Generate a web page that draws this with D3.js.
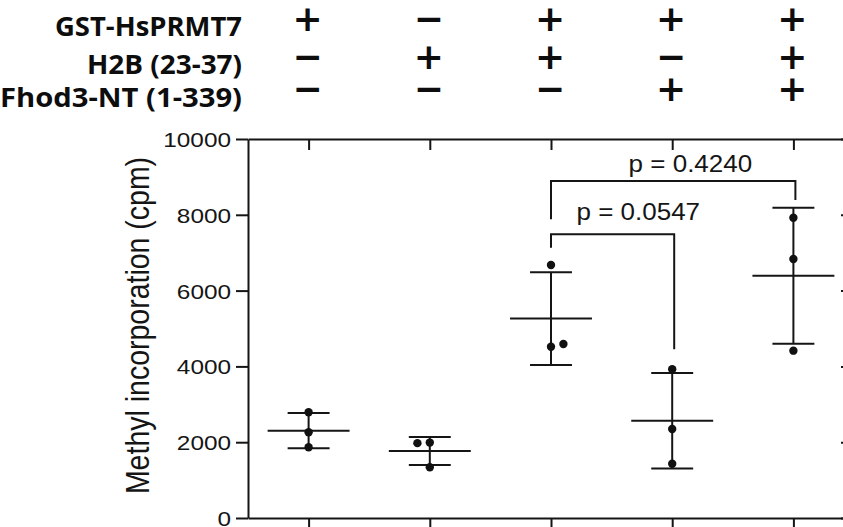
<!DOCTYPE html>
<html><head><meta charset="utf-8">
<script src="https://cdn.jsdelivr.net/npm/d3@7"></script>
<style>body{margin:0;background:#fff} svg{display:block}</style>
</head><body><svg id="c" width="843" height="527"></svg>
<script>
// ---------- data ----------
const groups = [1, 2, 3, 4, 5];
const rowLabels = ["GST-HsPRMT7", "H2B (23-37)", "Fhod3-NT (1-339)"];
const gstRow  = ["+", "\u2212", "+", "+", "+"];
const h2bRow  = ["\u2212", "+", "+", "\u2212", "+"];
const fhodRow = ["\u2212", "\u2212", "\u2212", "+", "+"];
const values = [
  [2789, 2261, 1865],
  [1990, 1975, 1338],
  [6675, 4520, 4591],
  [3923, 2348, 1433],
  [7923, 6834, 4415]
];
const yTicks = [0, 2000, 4000, 6000, 8000, 10000];
const yLabel = "Methyl incorporation (cpm)";
const compFrom   = [3, 3];
const compTo     = [4, 5];
const compLevel  = [7485, 8892];
const compFromEnd = [7132, 7881];
const compToEnd  = [4451, 8391];
const compLabel  = ["p = 0.0547", "p = 0.4240"];
const compLabelX = [3.72, 4.15];
const compLabelY = [7863, 9121];

// ---------- layout ----------
const svg = d3.select("#c");
const ink = "#151515";
const x = d3.scaleLinear().domain([0.5, 5.5]).range([248, 854]);
const y = d3.scaleLinear().domain([0, 10000]).range([518, 139]);
const step = x(2) - x(1);

// frame axes
const fontAx = "'Liberation Sans', Arial, sans-serif";
const axLeft = svg.append("g").attr("transform", `translate(${x(0.5)},0)`)
  .call(d3.axisLeft(y).tickValues(yTicks).tickSize(12).tickSizeOuter(0).tickPadding(4).tickFormat(d3.format("d")));
axLeft.selectAll("text").attr("font-family", fontAx).attr("font-size", 21).attr("fill", ink)
  .attr("transform", "scale(1.16,1)").attr("x", -17 / 1.16).attr("dy", "0.36em");
svg.append("g").attr("transform", `translate(0,${y(0)})`)
  .call(d3.axisBottom(x).tickValues(groups).tickSize(12).tickSizeOuter(0).tickFormat(""));
svg.append("g").attr("transform", `translate(0,${y(10000)})`)
  .call(d3.axisTop(x).tickValues(groups).tickSize(-11).tickSizeOuter(0).tickFormat(""));
svg.append("g").attr("transform", `translate(${x(5.5)},0)`)
  .call(d3.axisRight(y).tickValues(yTicks).tickSize(-13).tickSizeOuter(0).tickFormat(""));
svg.selectAll(".domain, .tick line").attr("stroke", ink).attr("stroke-width", 2);

// y label
svg.append("text").attr("transform", `translate(149,${(y(0) + y(10000)) / 2 - 3}) rotate(-90) scale(1,1.18)`)
  .attr("text-anchor", "middle").attr("font-family", fontAx).attr("font-size", 28.5).attr("fill", ink)
  .text(yLabel);

// header
const fontHead = "'Open Sans', 'Noto Sans', sans-serif";
const rowY = [36, 74, 107];
const rowW = [187, 155, 242];
const signY = [18, 56, 88];
const rows = [gstRow, h2bRow, fhodRow];
rowLabels.forEach((lab, i) => {
  svg.append("text").attr("x", 242).attr("y", rowY[i]).attr("text-anchor", "end")
    .attr("font-family", fontHead).attr("font-weight", 700).attr("font-size", 27).attr("fill", "#0d0d0d")
    .attr("textLength", rowW[i]).attr("lengthAdjust", "spacingAndGlyphs")
    .text(lab);
  svg.selectAll(null).data(rows[i]).enter().append("text")
    .attr("x", (d, j) => x(groups[j]) - 1).attr("y", signY[i])
    .attr("text-anchor", "middle").attr("dominant-baseline", "central")
    .attr("font-family", "'DejaVu Sans', sans-serif").attr("font-weight", 700).attr("font-size", 36)
    .attr("fill", "#0d0d0d").text(d => d);
});

// scatter with mean ± SD
const r = 4.2;
values.forEach((vals, gi) => {
  const cx = x(groups[gi]);
  const m = d3.mean(vals), sd = d3.deviation(vals);
  const g = svg.append("g");
  g.append("line").attr("x1", cx).attr("x2", cx).attr("y1", y(m + sd)).attr("y2", y(m - sd))
    .attr("stroke", ink).attr("stroke-width", 2);
  [m + sd, m - sd].forEach(v => g.append("line").attr("x1", cx - step * 0.173).attr("x2", cx + step * 0.173)
    .attr("y1", y(v)).attr("y2", y(v)).attr("stroke", ink).attr("stroke-width", 2));
  g.append("line").attr("x1", cx - step * 0.338).attr("x2", cx + step * 0.338)
    .attr("y1", y(m)).attr("y2", y(m)).attr("stroke", ink).attr("stroke-width", 2);
  // simple dodge for overlapping points
  const dir = gi % 2 === 0 ? 1 : -1;
  const placed = [];
  vals.forEach(v => {
    const py = y(v);
    const clash = placed.some(p => p.dx === 0 && Math.abs(p.py - py) < 2 * r + 1);
    const dx = clash ? dir * (2 * r + 4) : 0;
    placed.push({py, dx});
    g.append("circle").attr("cx", cx + dx).attr("cy", py).attr("r", r).attr("fill", "#111");
  });
});

// comparison brackets
compFrom.forEach((f, i) => {
  const x1 = x(f), x2 = x(compTo[i]) + 2;
  svg.append("path")
    .attr("d", `M${x1},${y(compFromEnd[i])}V${y(compLevel[i])}H${x2}V${y(compToEnd[i])}`)
    .attr("fill", "none").attr("stroke", ink).attr("stroke-width", 2);
  svg.append("text").attr("transform", `translate(${x(compLabelX[i])},${y(compLabelY[i])}) scale(1.13,1)`)
    .attr("text-anchor", "middle").attr("font-family", fontAx).attr("font-size", 23).attr("fill", ink)
    .text(compLabel[i]);
});
</script></body></html>
